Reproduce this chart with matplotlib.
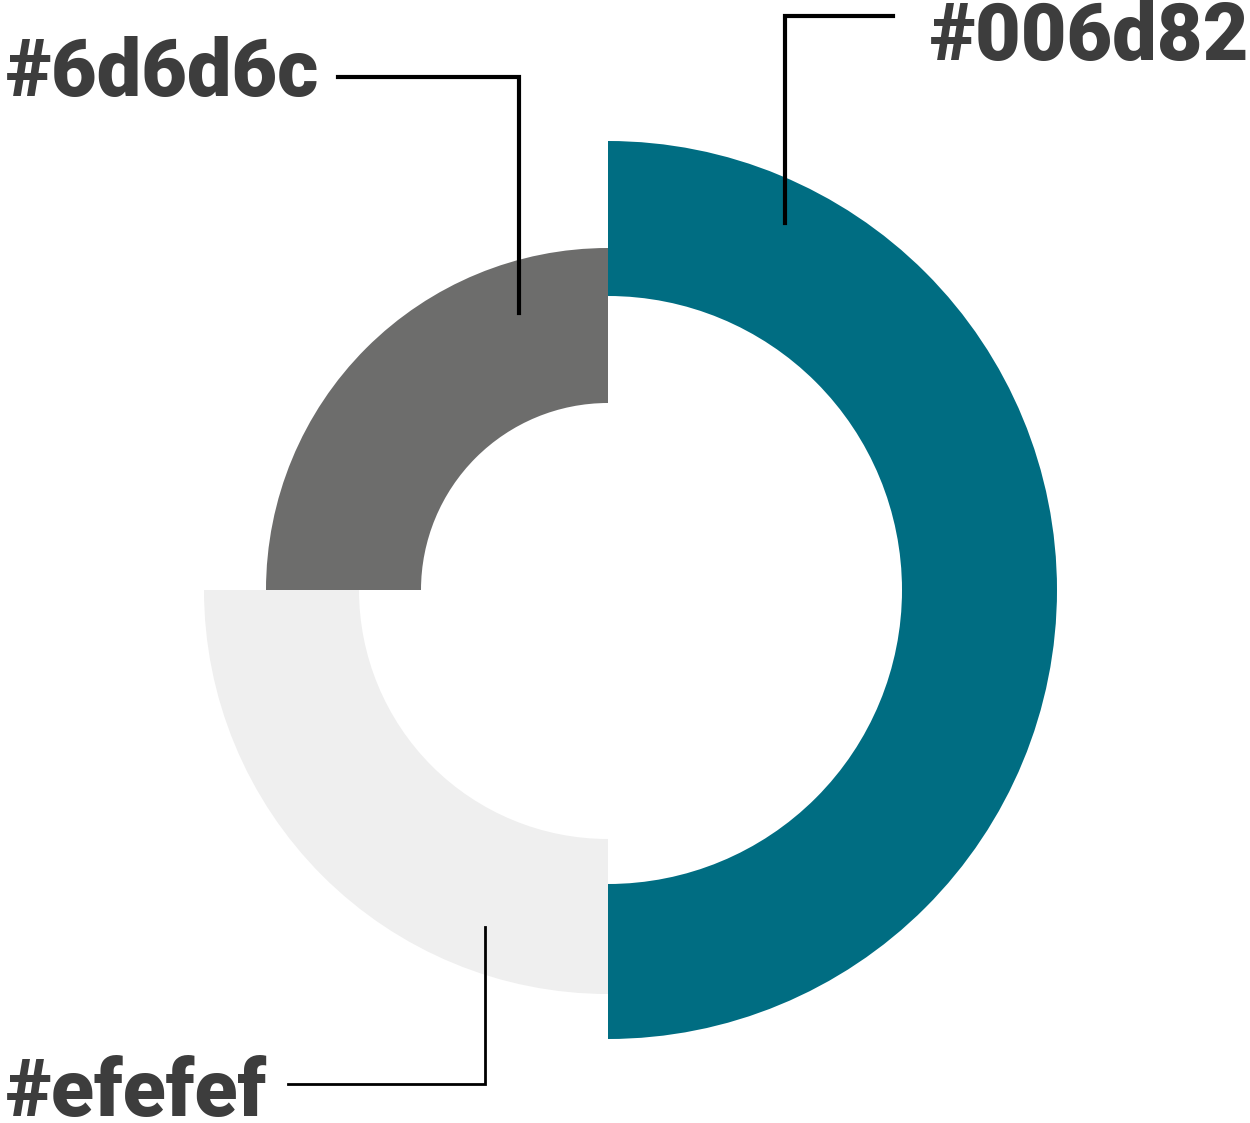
import numpy as np
import matplotlib.pyplot as plt
from matplotlib.patches import Wedge

# Segmentos (ordem anti-horária a partir do topo)
labels = ['#6d6d6c', '#efefef', '#006d82']
shares = [25, 25, 50]
outer_radius = [342, 404, 449]
colors = ['#6d6d6c', '#efefef', '#006d82']

W, H = 1250, 1123
center = (608, H - 590)
ring = 155

fig = plt.figure(figsize=(W / 100, H / 100), dpi=100)
ax = fig.add_axes([0, 0, 1, 1])
ax.set_xlim(0, W)
ax.set_ylim(0, H)
ax.set_aspect('equal')
ax.axis('off')

# Ângulos a partir dos valores
angles = 90 + 360 * np.cumsum([0] + shares) / sum(shares)
for i in range(len(shares)):
    ax.add_patch(Wedge(center, outer_radius[i], angles[i], angles[i + 1],
                       width=ring, facecolor=colors[i], edgecolor='none'))

txt = dict(fontfamily='Roboto', fontweight='black', fontsize=57, color='#3d3d3d', va='baseline')

# Rótulos e linhas de chamada
ax.text(6, H - 96, labels[0], ha='left', **txt)
ax.plot([338, 519, 519], [H - 77, H - 77, H - 313], color='black', lw=3, solid_joinstyle='miter')

ax.text(930, H - 60, labels[2], ha='left', **txt)
ax.plot([785, 785, 893], [H - 223, H - 16, H - 16], color='black', lw=3, solid_joinstyle='miter')

ax.text(6, H - 1116, labels[1], ha='left', **txt)
ax.plot([485, 485, 288], [H - 927, H - 1084, H - 1084], color='black', lw=2, solid_joinstyle='miter')

plt.savefig('out.png', dpi=100)
